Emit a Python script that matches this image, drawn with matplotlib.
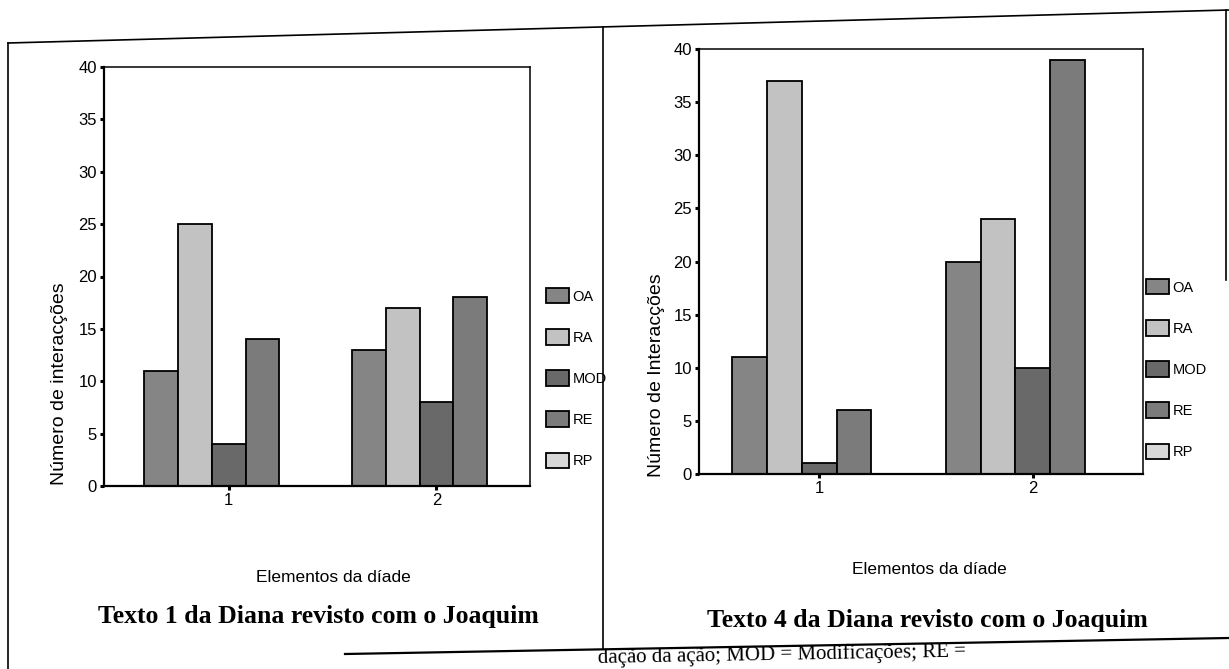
import matplotlib.pyplot as plt
from matplotlib.lines import Line2D
import numpy as np

W, H = 1229, 669

categorias = ['OA', 'RA', 'MOD', 'RE', 'RP']
elementos = [1, 2]

# Texto 1 da Diana revisto com o Joaquim
t1_oa = [11, 13]
t1_ra = [25, 17]
t1_mod = [4, 8]
t1_re = [14, 18]
t1_rp = [0, 0]

# Texto 4 da Diana revisto com o Joaquim
t4_oa = [11, 20]
t4_ra = [37, 24]
t4_mod = [1, 10]
t4_re = [6, 39]
t4_rp = [0, 0]

cores = ['#858585', '#c2c2c2', '#696969', '#7b7b7b', '#d8d8d8']

sans = ['Liberation Sans Narrow', 'Liberation Sans', 'DejaVu Sans']
serif = ['Liberation Serif', 'DejaVu Serif']


def px(x0, y0, x1, y1):
    # caixa em pixeis (origem em cima a esquerda) -> fraccao da figura
    return [x0 / W, 1 - y1 / H, (x1 - x0) / W, (y1 - y0) / H]


def fline(fig, xs, ys, lw=1.2):
    fig.add_artist(Line2D([x / W for x in xs], [1 - y / H for y in ys],
                          transform=fig.transFigure, color='black', lw=lw))


def painel(fig, rect, series, xlim, ylabel, ylab_pos, xlab_xy, titulo, tit_xy, leg_xy):
    ax = fig.add_axes(rect)
    w = 0.163
    x = np.array(elementos, dtype=float)
    handles = []
    for i, (vals, cor) in enumerate(zip(series, cores)):
        b = ax.bar(x + (i - 2) * w, vals, w, color=cor, edgecolor='black',
                   linewidth=1.3, label=categorias[i])
        handles.append(b)
    ax.set_xlim(*xlim)
    ax.set_ylim(0, 40)
    ax.set_yticks(range(0, 41, 5))
    ax.set_xticks(elementos)
    ax.tick_params(axis='both', direction='out', length=3, width=2.2,
                   labelsize=12, pad=2)
    for lab in ax.get_xticklabels() + ax.get_yticklabels():
        lab.set_family(sans)
    for s in ['left', 'bottom']:
        ax.spines[s].set_linewidth(1.6)
    for s in ['top', 'right']:
        ax.spines[s].set_linewidth(1.1)
    ax.set_ylabel(ylabel, fontsize=14, family=sans)
    ax.yaxis.set_label_coords(*ylab_pos, transform=fig.transFigure)
    fig.text(xlab_xy[0] / W, 1 - xlab_xy[1] / H, 'Elementos da díade',
             ha='center', va='center', fontsize=12.5, family=sans)
    fig.text(tit_xy[0] / W, 1 - tit_xy[1] / H, titulo, ha='center', va='center',
             fontsize=18.5, fontweight='bold', family=serif)
    fig.legend(handles, categorias, loc='upper left',
               bbox_to_anchor=(leg_xy[0] / W, 1 - leg_xy[1] / H),
               frameon=False, handlelength=1.6, handleheight=1.25,
               labelspacing=1.75, handletextpad=0.2, borderpad=0, borderaxespad=0,
               prop={'family': sans, 'size': 10.5})
    return ax


fig = plt.figure(figsize=(W / 100, H / 100), dpi=100)

painel(fig, px(104, 67, 530, 486), [t1_oa, t1_ra, t1_mod, t1_re, t1_rp],
       (0.40, 2.45), 'Número de interacções', (68 / W, 1 - 384 / H),
       (333, 578), 'Texto 1 da Diana revisto com o Joaquim', (318, 617), (546, 288))

painel(fig, px(699, 49, 1143, 474), [t4_oa, t4_ra, t4_mod, t4_re, t4_rp],
       (0.437, 2.516), 'Número de Interacções', (665 / W, 1 - 375 / H),
       (929, 570), 'Texto 4 da Diana revisto com o Joaquim', (927, 621), (1146, 279))

# moldura da tabela digitalizada
fline(fig, [8, 1229], [43, 10])
fline(fig, [8, 8], [43, 669])
fline(fig, [603, 603], [27, 648])
fline(fig, [1226, 1226], [10, 280])
fline(fig, [345, 1229], [654, 638], lw=1.6)
fig.text(598 / W, 1 - 668 / H, 'dação da ação; MOD = Modificações; RE =',
         ha='left', va='bottom', fontsize=15, family=serif, rotation=1.0,
         rotation_mode='anchor')

fig.savefig('out.png', dpi=100)
